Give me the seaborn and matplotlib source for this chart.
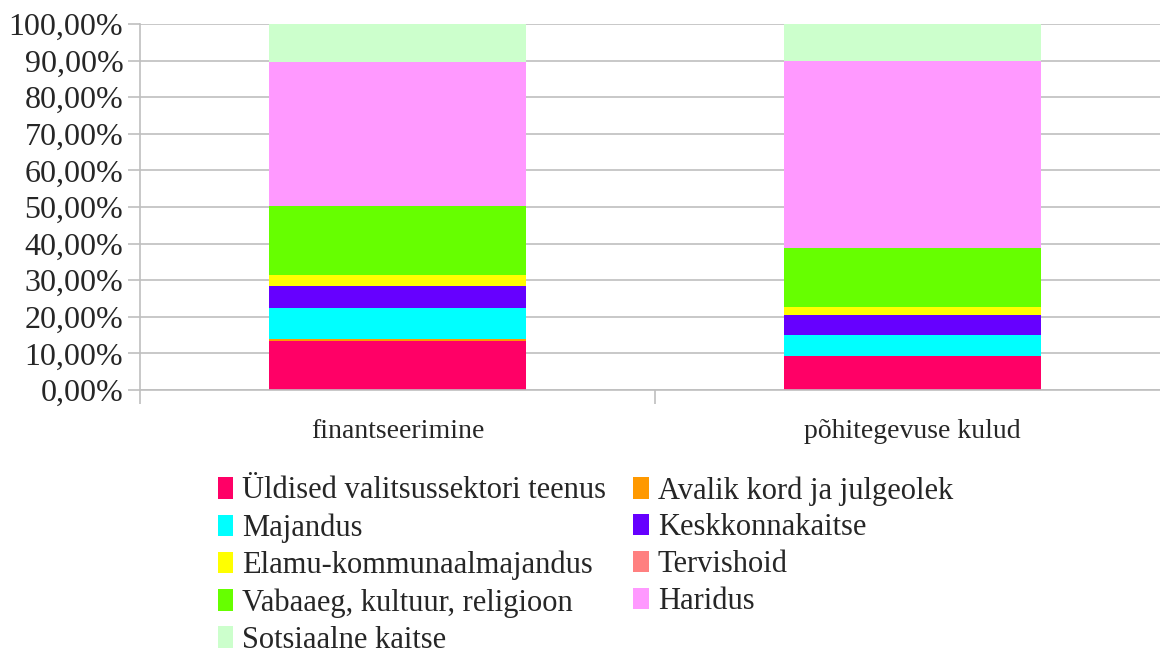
import numpy as np
import pandas as pd
from matplotlib import pyplot as plt
from matplotlib.patches import Patch
from matplotlib.ticker import FuncFormatter, FixedLocator
import seaborn as sns

# Data (share of each field, percent)
categories = ["finantseerimine", "põhitegevuse kulud"]
fields = ["Üldised valitsussektori teenus", "Avalik kord ja julgeolek", "Majandus",
          "Keskkonnakaitse", "Elamu-kommunaalmajandus", "Tervishoid",
          "Vabaaeg, kultuur, religioon", "Haridus", "Sotsiaalne kaitse"]
finantseerimine = [13.45, 0.35, 8.6, 6.0, 3.0, 0.0, 18.9, 39.4, 10.3]
pohitegevuse_kulud = [9.4, 0.0, 5.7, 5.4, 2.2, 0.0, 16.2, 51.1, 10.0]
colors = ["#FF0066", "#FF9900", "#00FFFF", "#6600FF", "#FFFF00",
          "#FF8080", "#66FF00", "#FF99FF", "#CCFFCC"]

sns.set_theme(style="white")
plt.rcParams['font.family'] = ['Liberation Serif', 'DejaVu Serif']

df = pd.DataFrame({"kategooria": categories})
cum1 = np.cumsum(finantseerimine)
cum2 = np.cumsum(pohitegevuse_kulud)

fig = plt.figure(figsize=(11.6, 6.61), dpi=100)
ax = fig.add_axes([140 / 1160, 1 - 390 / 661, 1030 / 1160, 366 / 661])

# stacked bars: draw cumulative totals from the top segment down
for i in range(len(fields) - 1, -1, -1):
    df["v"] = [cum1[i], cum2[i]]
    sns.barplot(data=df, x="kategooria", y="v", color=colors[i], width=0.5,
                saturation=1, ax=ax, linewidth=0)

ax.set_ylim(0, 100)
ax.set_xlim(-0.5, 1.5)
ax.set_yticks(np.arange(0, 101, 10))
ax.yaxis.set_major_formatter(FuncFormatter(lambda v, p: f"{v:.2f}%".replace(".", ",")))
ax.grid(axis="y", color="#BFBFBF", linewidth=1.2)
ax.set_axisbelow(True)
ax.set_xlabel("")
ax.set_ylabel("")
for s in ["top", "right"]:
    ax.spines[s].set_visible(False)
ax.spines["left"].set_color("#BFBFBF")
ax.spines["bottom"].set_color("#BFBFBF")
ax.spines["left"].set_linewidth(1.2)
ax.spines["bottom"].set_linewidth(1.2)

ax.tick_params(axis="y", which="major", length=9, color="#BFBFBF", width=1.2,
               labelsize=23, pad=3, left=True)
ax.tick_params(axis="x", which="major", length=0, labelsize=20, pad=21)
ax.xaxis.set_minor_locator(FixedLocator([-0.5, 0.5, 1.5]))
ax.tick_params(axis="x", which="minor", length=10, color="#BFBFBF", width=1.2, bottom=True)

# legend is filled row by row in the reference
order = [0, 2, 4, 6, 8, 1, 3, 5, 7]
handles = [Patch(facecolor=colors[k], edgecolor="none") for k in order]
labels = [fields[k] for k in order]
fig.legend(handles, labels, loc="upper left", bbox_to_anchor=(218 / 1160, 1 - 476 / 661),
           ncol=2, frameon=False, fontsize=22, handlelength=0.5, handleheight=0.7,
           handletextpad=0.3, columnspacing=0.88, labelspacing=0.26, borderaxespad=0,
           borderpad=0)

fig.savefig("out.png", dpi=100)
